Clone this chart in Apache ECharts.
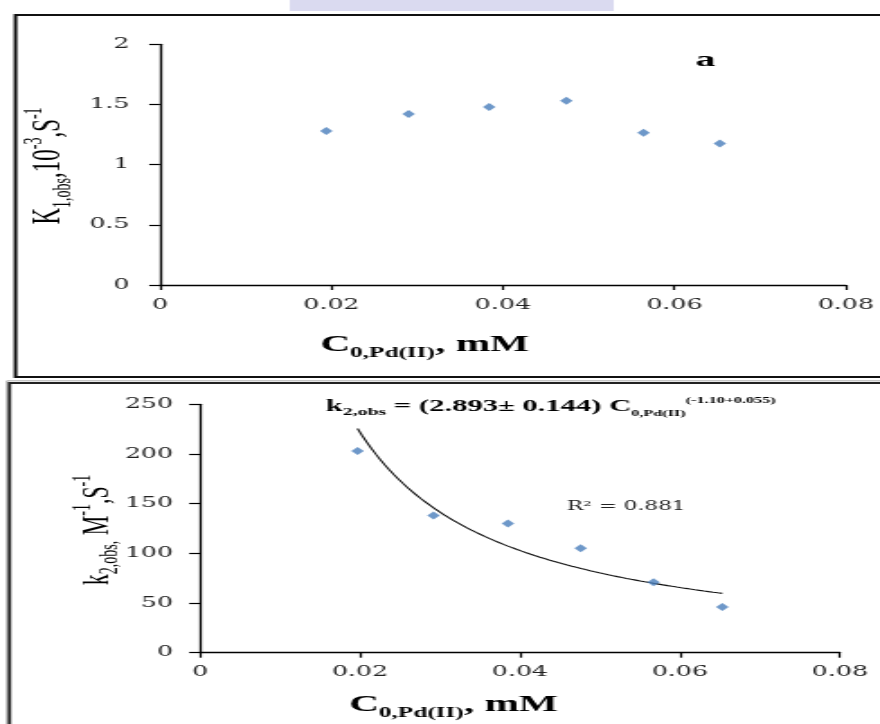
<!DOCTYPE html>
<html>
<head>
<meta charset="utf-8">
<script src="https://cdn.jsdelivr.net/npm/echarts@6/dist/echarts.min.js"></script>
<style>
html,body{margin:0;padding:0;background:#fff;overflow:hidden;}
#c{width:489px;height:724px;transform:scaleX(1.7996);transform-origin:0 0;}
</style>
</head>
<body>
<div id="c"></div>
<script>
// ---- data ----
const xTicks = [0, 0.02, 0.04, 0.06, 0.08];
const k1Ticks = [0, 0.5, 1, 1.5, 2];
const k2Ticks = [0, 50, 100, 150, 200, 250];

const conc1 = [0.0194, 0.0290, 0.0384, 0.0474, 0.0564, 0.0653];
const k1obs = [1.28, 1.42, 1.48, 1.53, 1.265, 1.175];

const conc2 = [0.0197, 0.0292, 0.0385, 0.0476, 0.0567, 0.0653];
const k2obs = [203, 138, 130, 105, 71, 46];

const r2Text = 'R² = 0.881';

// ---- power trendline fitted from the data (least squares in log space, like a spreadsheet trendline) ----
function powerFit(xs, ys) {
  const lx = xs.map(Math.log), ly = ys.map(Math.log);
  const n = xs.length;
  const mx = lx.reduce((a, b) => a + b, 0) / n, my = ly.reduce((a, b) => a + b, 0) / n;
  let sxy = 0, sxx = 0;
  for (let i = 0; i < n; i++) { sxy += (lx[i] - mx) * (ly[i] - my); sxx += (lx[i] - mx) * (lx[i] - mx); }
  const b = sxy / sxx;
  const a = Math.exp(my - b * mx);
  return { a, b };
}
const fit = powerFit(conc2, k2obs);
const xmin = Math.min(...conc2), xmax = Math.max(...conc2);
const trend = [];
for (let i = 0; i <= 80; i++) {
  const x = xmin + (xmax - xmin) * i / 80;
  trend.push([x, fit.a * Math.pow(x, fit.b)]);
}

const chart = echarts.init(document.getElementById('c'), null, { renderer: 'canvas' });
const W = chart.getWidth();

const tickFont = 'DejaVu Serif';
const serif = 'Liberation Serif';

function axisCommon() {
  return {
    axisLine: { show: true, onZero: false, lineStyle: { color: '#000', width: 1.3 } },
    axisTick: { show: true, length: 5, lineStyle: { color: '#000', width: 1.2 } },
    splitLine: { show: false },
    axisLabel: { fontFamily: tickFont, fontSize: 14, color: '#222' }
  };
}
function xAx(gi) {
  const a = axisCommon();
  a.gridIndex = gi; a.type = 'value'; a.min = xTicks[0]; a.max = xTicks[xTicks.length - 1]; a.interval = 0.02;
  a.axisLabel.margin = 13;
  a.axisLabel.formatter = v => (v === 0 ? '0' : v.toFixed(2));
  return a;
}
function yAx(gi, ticks, margin) {
  const a = axisCommon();
  a.gridIndex = gi; a.type = 'value'; a.min = ticks[0]; a.max = ticks[ticks.length - 1];
  a.interval = ticks[1] - ticks[0];
  a.axisTick.length = 6;
  a.axisLabel.margin = margin;
  return a;
}

function richSet(f, weight, fam) {
  return {
    m: { fontSize: f, fontWeight: weight, fontFamily: fam, lineHeight: Math.round(f * 1.3), color: '#000' },
    sub: { fontSize: Math.round(f * 0.62), fontWeight: weight, fontFamily: fam, verticalAlign: 'bottom', lineHeight: Math.round(f * 0.66), color: '#000' },
    sup: { fontSize: Math.round(f * 0.62), fontWeight: weight, fontFamily: fam, verticalAlign: 'top', lineHeight: Math.round(f * 0.7), color: '#000' },
    ss: { fontSize: Math.round(f * 0.5), fontWeight: weight, fontFamily: fam, verticalAlign: 'bottom', lineHeight: Math.round(f * 0.62), color: '#000' },
    sp: { fontSize: Math.round(f * 0.5), fontWeight: weight, fontFamily: fam, verticalAlign: 'top', lineHeight: Math.round(f * 0.92), color: '#000' }
  };
}

const graphic = [
  // cut-off strip of the page above the figure
  { type: 'rect', shape: { x: 161, y: 0, width: 180, height: 11 }, style: { fill: '#dadaf0' }, silent: true },
  // panel frames
  { type: 'polyline', shape: { points: [[W + 5, 15], [8.6, 15], [8.6, 377], [W + 5, 377]] }, style: { stroke: '#111', lineWidth: 2, fill: null } },
  { type: 'polyline', shape: { points: [[W + 5, 383], [5.2, 383], [5.2, 730]] }, style: { stroke: '#222', lineWidth: 2, fill: null } },
  { type: 'polyline', shape: { points: [[W + 5, 380.8], [3.8, 380.8], [3.8, 730]] }, style: { stroke: '#999', lineWidth: 0.8, fill: null } },
  // panel label
  { type: 'text', x: 392, y: 60, style: { text: 'a', font: 'bold 22px "Liberation Serif"', fill: '#000', align: 'center', verticalAlign: 'middle' } },
  // top axis titles
  { type: 'text', x: 236, y: 345, style: { text: '{m|C}{sub|0,Pd(II)}{m|, mM}', rich: richSet(23, 'bold', serif), align: 'center', verticalAlign: 'middle' } },
  { type: 'text', x: 27, y: 166, rotation: Math.PI / 2, style: { text: '{m|K}{sub|1,obs}{m|,10}{sup|-3}{m|,S}{sup|-1}', rich: richSet(23, 'normal', serif), align: 'center', verticalAlign: 'middle' } },
  // bottom axis titles
  { type: 'text', x: 252, y: 705, style: { text: '{m|C}{sub|0,Pd(II)}{m|, mM}', rich: richSet(23, 'bold', serif), align: 'center', verticalAlign: 'middle' } },
  { type: 'text', x: 54, y: 530, rotation: Math.PI / 2, style: { text: '{m|k}{sub|2,obs,}{m| M}{sup|-1}{m|,S}{sup|-1}', rich: richSet(22, 'normal', serif), align: 'center', verticalAlign: 'middle' } },
  // equation and R²
  { type: 'text', x: 306, y: 407, style: { text: '{m|k}{sub|2,obs}{m| = (2.893± 0.144) C}{ss|0,Pd(II)}{sp|(-1.10+0.055)}', rich: richSet(17, 'bold', serif), align: 'center', verticalAlign: 'middle' } },
  { type: 'text', x: 348, y: 507, style: { text: r2Text, font: '12px "DejaVu Serif"', fill: '#222', align: 'center', verticalAlign: 'middle' } }
];

const option = {
  animation: false,
  backgroundColor: '#fff',
  grid: [
    { left: 88.9, top: 44.3, width: 381.1, height: 240.7 },
    { left: 111.1, top: 404.3, width: 355.6, height: 248.4 }
  ],
  xAxis: [xAx(0), xAx(1)],
  yAxis: [yAx(0, k1Ticks, 17), yAx(1, k2Ticks, 15)],
  series: [
    { type: 'scatter', xAxisIndex: 0, yAxisIndex: 0, symbol: 'diamond', symbolSize: [7, 8],
      itemStyle: { color: '#4a7ebb' }, data: conc1.map((x, i) => [x, k1obs[i]]) },
    { type: 'line', xAxisIndex: 1, yAxisIndex: 1, showSymbol: false, symbol: 'none', smooth: false,
      lineStyle: { color: '#111', width: 1.1 }, data: trend, z: 1 },
    { type: 'scatter', xAxisIndex: 1, yAxisIndex: 1, symbol: 'diamond', symbolSize: [7, 8],
      itemStyle: { color: '#4a7ebb' }, data: conc2.map((x, i) => [x, k2obs[i]]), z: 3 }
  ],
  graphic: graphic
};
chart.setOption(option);
</script>
</body>
</html>
